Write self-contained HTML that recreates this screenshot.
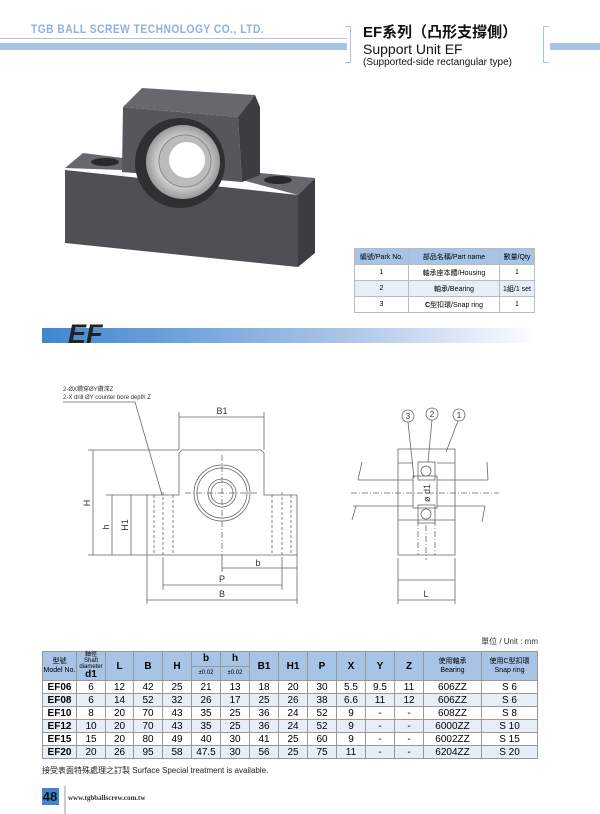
<!DOCTYPE html>
<html><head><meta charset="utf-8"><style>
body{margin:0;width:600px;height:814px;background:#fff;position:relative;overflow:hidden;font-family:"Liberation Sans","Noto Sans CJK TC",sans-serif;}
.a{position:absolute;}
table{border-collapse:collapse;}
#pt{left:354px;top:248px;width:181px;font-size:7px;}
#pt td{border:1px solid #bbb;text-align:center;height:15px;padding:0;}
#mt{left:42px;top:651px;width:496px;font-size:10px;border:1.5px solid #555;table-layout:fixed;}
#mt td{border:1px solid #999;text-align:center;padding:0;height:12px;line-height:11px;}
#mt .h td{line-height:9px;}
#mt .h{background:#a7c3e6;font-weight:bold;}
</style></head><body>
<div class="a" style="left:31px;top:22px;font-size:12px;font-weight:bold;color:#8fb0dc;letter-spacing:0.6px;transform:scaleX(0.85);transform-origin:left;white-space:nowrap">TGB BALL SCREW TECHNOLOGY CO., LTD.</div>
<div class="a" style="left:0;top:38px;width:347px;height:1px;background:#a7c3e6"></div>
<div class="a" style="left:0;top:43px;width:347px;height:7px;background:#a7c3e6"></div>
<div class="a" style="left:345px;top:26px;width:5px;height:35px;border:1px solid #a7c3e6;border-left:none"></div>
<div class="a" style="left:543px;top:26px;width:5px;height:35px;border:1px solid #a7c3e6;border-right:none"></div>
<div class="a" style="left:550px;top:43px;width:50px;height:7px;background:#a7c3e6"></div>
<div class="a" style="left:363px;top:21px;font-size:15px;font-weight:bold;color:#111">EF系列（凸形支撐側）</div>
<div class="a" style="left:363px;top:41px;font-size:14px;color:#111">Support Unit EF</div>
<div class="a" style="left:363px;top:57px;font-size:10px;color:#111">(Supported-side rectangular type)</div>

<svg class="a" style="left:0;top:0" width="600" height="814">
<defs><linearGradient id="g" x1="0" x2="1"><stop offset="0" stop-color="#3f86cf"/><stop offset="0.6" stop-color="#a9c4e8"/><stop offset="1" stop-color="#fff"/></linearGradient>
<radialGradient id="s"><stop offset="0.5" stop-color="#eee"/><stop offset="1" stop-color="#999"/></radialGradient></defs>
<polygon points="65,170 298,195 298,267 65,243" fill="#4e5054"/>
<polygon points="65,168 83,153 123,158 122,170" fill="#66686d"/>
<polygon points="242,180 260,173 315,178 298,195" fill="#66686d"/>
<polygon points="298,195 315,178 315,253 298,267" fill="#3c3d40"/>
<polygon points="123,107 238,117 242,182 122,172" fill="#55575b"/>
<polygon points="123,107 142,88 255,95 238,117" fill="#66686d"/>
<polygon points="238,117 255,95 260,107 260,175 242,182" fill="#3c3d40"/>
<ellipse cx="105" cy="162" rx="14" ry="4" fill="#2a2a2c"/>
<ellipse cx="278" cy="180" rx="14" ry="4" fill="#2a2a2c"/>
<circle cx="180" cy="163" r="45" fill="#2f3032"/>
<circle cx="183" cy="162" r="37" fill="url(#s)"/>
<circle cx="185" cy="161" r="26" fill="#bbb" stroke="#888"/>
<circle cx="187" cy="160" r="18" fill="#fff"/>
<rect x="42" y="328" width="498" height="15" fill="url(#g)"/>
<text x="68" y="343" font-size="27" font-weight="bold" font-style="italic" font-family="Liberation Sans" fill="#222">EF</text>
<g stroke="#666" fill="none" stroke-width="0.8">
<path d="M147,495 H179 V453 L182,450 H261 L264,453 V495 H297 V555 H147 Z"/>
<circle cx="222" cy="493" r="28"/><circle cx="222" cy="493" r="25"/><circle cx="222" cy="493" r="14"/><circle cx="222" cy="493" r="11"/>
<path d="M222,455 V560 M185,493 H259" stroke-dasharray="6,2,1,2"/>
<path d="M154,495 V555 M173,495 V555 M272,495 V555 M291,495 V555 M163,492 V558 M282,492 V558" stroke-dasharray="3,2"/>
<path d="M179,450 V412 M264,450 V412 M179,417 H264 M88,450 H179 M88,555 H147 M106,495 H147 M93,450 V555 M112,495 V555 M131,495 V555 M147,555 V604 M297,555 V604 M222,560 V572 M163,558 V590 M282,558 V590 M222,568 H297 M163,585 H282 M147,600 H297"/>
<path d="M63,402 H135 L162,495"/>
<path d="M398,449 H455 V555 H398 Z M398,463 H413 M437,463 H455 M398,520 H455"/>
<path d="M358,480 H413 M437,480 H488 M353,506 H413 M437,506 H485 M362,462 L358,480 M487,462 L488,480 M356,506 L352,520 M485,506 L482,522"/>
<path d="M351,493 H499 M418,520 V555 M435,520 V555 M426,525 V560" stroke-dasharray="6,2,1,2"/>
<rect x="413" y="476" width="24" height="32"/>
<rect x="418" y="462" width="17" height="18"/><rect x="418" y="505" width="17" height="18"/>
<circle cx="426" cy="471" r="5"/><circle cx="426" cy="514" r="5"/>
<circle cx="408" cy="416" r="6"/><circle cx="432" cy="414" r="6"/><circle cx="459" cy="415" r="6"/>
<path d="M408,422 L414,478 M432,420 L428,462 M458,421 L446,452"/>
<path d="M398,558 V604 M455,558 V604 M398,580 H455 M398,600 H455"/>
</g>
<g font-size="9" fill="#333" font-family="Liberation Sans" text-anchor="middle">
<text x="222" y="414">B1</text><text x="258" y="566">b</text><text x="222" y="582">P</text><text x="222" y="597">B</text><text x="426" y="597">L</text>
<text transform="translate(90,503) rotate(-90)">H</text><text transform="translate(109,527) rotate(-90)">h</text><text transform="translate(128,525) rotate(-90)">H1</text>
<text transform="translate(430,493) rotate(-90)">ø d1</text>
<text x="408" y="419" font-size="8">3</text><text x="432" y="417" font-size="8">2</text><text x="459" y="418" font-size="8">1</text>
</g>
<text x="63" y="391" font-size="6" fill="#333">2-ØX鑽穿ØY鑽深Z</text>
<text x="63" y="399" font-size="6" fill="#333">2-X drill ØY counter bore depth Z</text>
<rect x="42" y="788" width="17" height="17" fill="#3f86cf"/>
<text x="50" y="801" font-size="13" font-weight="bold" text-anchor="middle" fill="#111">48</text>
<line x1="65" y1="786" x2="65" y2="814" stroke="#999"/>
<text x="68" y="800" font-size="7" font-family="Liberation Serif" font-weight="bold" fill="#333">www.tgbballscrew.com.tw</text>
</svg>

<table id="pt" class="a">
<tr style="background:#a7c3e6"><td style="width:53px">編號/Park No.</td><td style="width:90px">部品名稱/Part name</td><td>數量/Qty</td></tr>
<tr><td>1</td><td>軸承座本體/Housing</td><td>1</td></tr>
<tr style="background:#e6eef8"><td>2</td><td>軸承/Bearing</td><td>1組/1 set</td></tr>
<tr><td>3</td><td><b>C</b>型扣環/Snap ring</td><td>1</td></tr>
</table>

<div class="a" style="right:62px;top:636px;font-size:8px;color:#333">單位 / Unit : mm</div>
<table id="mt" class="a">
<colgroup><col style="width:34px"><col style="width:29px"><col style="width:28px"><col style="width:29px"><col style="width:29px"><col style="width:29px"><col style="width:29px"><col style="width:29px"><col style="width:29px"><col style="width:29px"><col style="width:29px"><col style="width:29px"><col style="width:29px"><col style="width:58px"><col></colgroup>
<tr class="h"><td rowspan="2" style="font-weight:normal;font-size:7px">型號<br>Model No.</td><td rowspan="2" style="font-size:6px;font-weight:normal;line-height:6px">軸徑<br>Shaft<br>diameter<br><b style="font-size:10px;line-height:10px">d1</b></td><td rowspan="2">L</td><td rowspan="2">B</td><td rowspan="2">H</td><td style="height:13px">b</td><td>h</td><td rowspan="2">B1</td><td rowspan="2">H1</td><td rowspan="2">P</td><td rowspan="2">X</td><td rowspan="2">Y</td><td rowspan="2">Z</td><td rowspan="2" style="font-weight:normal;font-size:7px">使用軸承<br>Bearing</td><td rowspan="2" style="font-weight:normal;font-size:7px">使用C型扣環<br>Snap ring</td></tr>
<tr class="h"><td style="font-size:6px;font-weight:normal;height:13px">±0.02</td><td style="font-size:6px;font-weight:normal">±0.02</td></tr>
<tr><td><b>EF06</b></td><td>6</td><td>12</td><td>42</td><td>25</td><td>21</td><td>13</td><td>18</td><td>20</td><td>30</td><td>5.5</td><td>9.5</td><td>11</td><td>606ZZ</td><td>S 6</td></tr>
<tr style="background:#e6eef8"><td><b>EF08</b></td><td>6</td><td>14</td><td>52</td><td>32</td><td>26</td><td>17</td><td>25</td><td>26</td><td>38</td><td>6.6</td><td>11</td><td>12</td><td>606ZZ</td><td>S 6</td></tr>
<tr><td><b>EF10</b></td><td>8</td><td>20</td><td>70</td><td>43</td><td>35</td><td>25</td><td>36</td><td>24</td><td>52</td><td>9</td><td>-</td><td>-</td><td>608ZZ</td><td>S 8</td></tr>
<tr style="background:#e6eef8"><td><b>EF12</b></td><td>10</td><td>20</td><td>70</td><td>43</td><td>35</td><td>25</td><td>36</td><td>24</td><td>52</td><td>9</td><td>-</td><td>-</td><td>6000ZZ</td><td>S 10</td></tr>
<tr><td><b>EF15</b></td><td>15</td><td>20</td><td>80</td><td>49</td><td>40</td><td>30</td><td>41</td><td>25</td><td>60</td><td>9</td><td>-</td><td>-</td><td>6002ZZ</td><td>S 15</td></tr>
<tr style="background:#e6eef8"><td><b>EF20</b></td><td>20</td><td>26</td><td>95</td><td>58</td><td>47.5</td><td>30</td><td>56</td><td>25</td><td>75</td><td>11</td><td>-</td><td>-</td><td>6204ZZ</td><td>S 20</td></tr>
</table>
<div class="a" style="left:42px;top:765px;font-size:8px;color:#222">接受表面特殊處理之訂製 Surface Special treatment is available.</div>
</body></html>
